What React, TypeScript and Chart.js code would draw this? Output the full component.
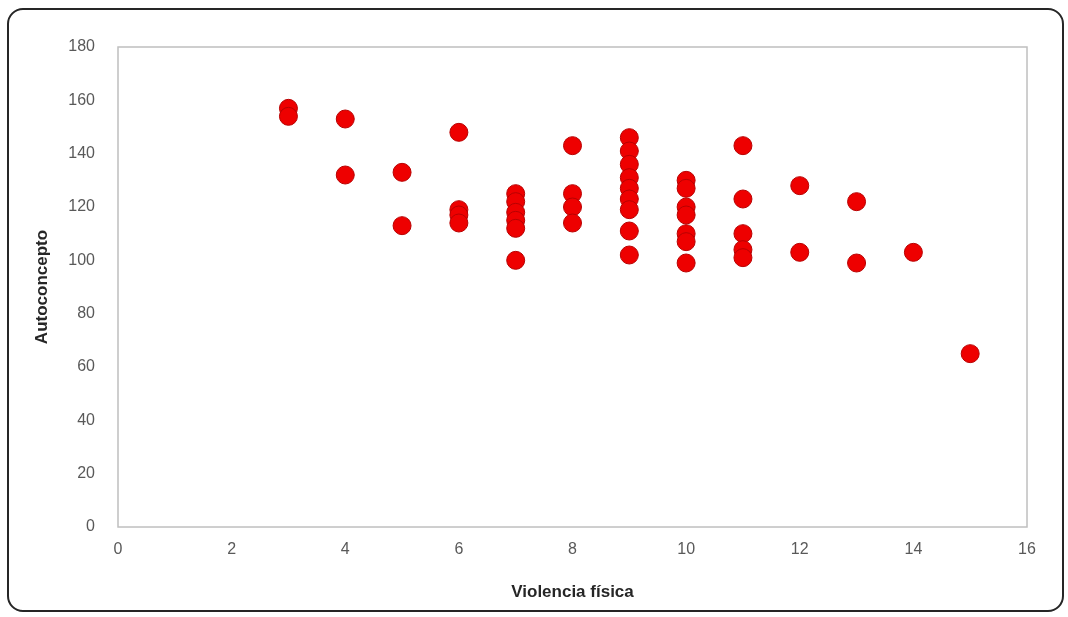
import React, { useEffect, useRef } from "react";
import { Chart, registerables } from "chart.js";

Chart.register(...registerables);

// Violencia física (x) and Autoconcepto (y) for each observation
const violenciaFisica: number[] = [
  3, 3,
  4, 4,
  5, 5,
  6, 6, 6, 6,
  7, 7, 7, 7, 7, 7,
  8, 8, 8, 8,
  9, 9, 9, 9, 9, 9, 9, 9, 9,
  10, 10, 10, 10, 10, 10, 10,
  11, 11, 11, 11, 11,
  12, 12,
  13, 13,
  14,
  15,
];
const autoconcepto: number[] = [
  157, 154,
  153, 132,
  133, 113,
  148, 119, 117, 114,
  125, 122, 118, 115, 112, 100,
  143, 125, 120, 114,
  146, 141, 136, 131, 127, 123, 119, 111, 102,
  130, 127, 120, 117, 110, 107, 99,
  143, 123, 110, 104, 101,
  128, 103,
  122, 99,
  103,
  65,
];

const xTicks = { min: 0, max: 16, step: 2 };
const yTicks = { min: 0, max: 180, step: 20 };
const xTitle = "Violencia física";
const yTitle = "Autoconcepto";

const frame = {
  id: "frame",
  afterDraw(chart: any) {
    const { ctx, chartArea } = chart;
    ctx.save();
    ctx.strokeStyle = "#bfbfbf";
    ctx.lineWidth = 1.5;
    ctx.strokeRect(chartArea.left, chartArea.top, chartArea.right - chartArea.left, chartArea.bottom - chartArea.top);
    // axis titles
    ctx.fillStyle = "#262626";
    ctx.font = "bold 17px 'Liberation Sans', sans-serif";
    ctx.textAlign = "center";
    ctx.textBaseline = "middle";
    ctx.fillText(xTitle, (chartArea.left + chartArea.right) / 2, 592);
    ctx.translate(42, (chartArea.top + chartArea.bottom) / 2);
    ctx.rotate(-Math.PI / 2);
    ctx.fillText(yTitle, 0, 0);
    ctx.restore();
  },
};

export default function App() {
  const ref = useRef<HTMLCanvasElement>(null);
  useEffect(() => {
    document.body.style.margin = "0";
    const points = violenciaFisica.map((x, i) => ({ x, y: autoconcepto[i] }));
    const chart = new Chart(ref.current as HTMLCanvasElement, {
      type: "scatter",
      data: {
        datasets: [
          {
            data: points,
            backgroundColor: "#ee0000",
            borderColor: "#b80000",
            borderWidth: 1,
            pointRadius: 9,
          },
        ],
      },
      options: {
        animation: false,
        responsive: false,
        layout: { padding: { left: 0, right: 41, top: 47, bottom: 0 } },
        plugins: { legend: { display: false }, tooltip: { enabled: false } },
        scales: {
          x: {
            type: "linear",
            min: xTicks.min,
            max: xTicks.max,
            grid: { display: false },
            border: { display: false },
            ticks: {
              stepSize: xTicks.step,
              padding: 5,
              color: "#595959",
              font: { family: "'Liberation Sans Narrow', 'Liberation Sans', sans-serif", size: 16 },
            },
            afterFit(scale: any) {
              scale.height = 90;
            },
          },
          y: {
            type: "linear",
            min: yTicks.min,
            max: yTicks.max,
            grid: { display: false },
            border: { display: false },
            ticks: {
              stepSize: yTicks.step,
              padding: 15,
              color: "#595959",
              font: { family: "'Liberation Sans', sans-serif", size: 16 },
            },
            afterFit(scale: any) {
              scale.width = 118;
            },
          },
        },
      },
      plugins: [frame],
    });
    return () => chart.destroy();
  }, []);
  return (
    <div style={{ position: "relative", width: 1068, height: 617, background: "#fff" }}>
      <div
        style={{
          position: "absolute",
          left: 7,
          top: 8,
          width: 1057,
          height: 604,
          border: "2px solid #262626",
          borderRadius: 16,
          boxSizing: "border-box",
        }}
      />
      <canvas ref={ref} width={1068} height={617} style={{ position: "absolute", left: 0, top: 0 }} />
    </div>
  );
}
